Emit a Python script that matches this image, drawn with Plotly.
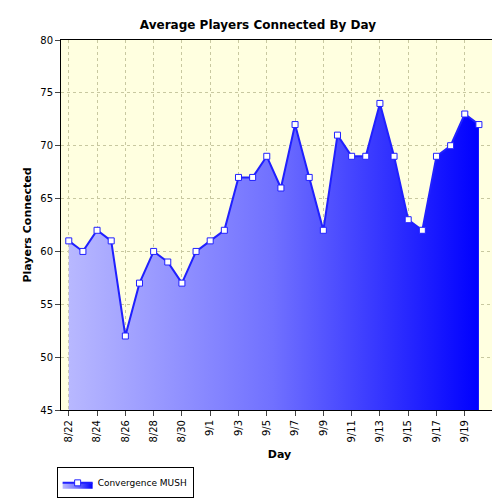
import plotly.graph_objects as go

days = ["8/22","8/23","8/24","8/25","8/26","8/27","8/28","8/29","8/30","8/31",
        "9/1","9/2","9/3","9/4","9/5","9/6","9/7","9/8","9/9","9/10",
        "9/11","9/12","9/13","9/14","9/15","9/16","9/17","9/18","9/19","9/20"]
players = [61,60,62,61,52,57,60,59,57,60,61,62,67,67,69,66,72,67,62,71,
           69,69,74,69,63,62,69,70,73,72]
xi = list(range(len(days)))

fig = go.Figure()
fig.add_trace(go.Scatter(
    x=xi, y=players, mode="lines+markers", name="Convergence MUSH",
    line=dict(color="#2020ff", width=2),
    marker=dict(symbol="square", size=6, color="white", line=dict(color="#2020ff", width=1)),
    fill="tozeroy",
    fillgradient=dict(type="horizontal", colorscale=[[0, "#b8b8ff"], [0.5, "#7070ff"], [1, "#0000ff"]]),
))
fig.update_layout(
    width=500, height=500,
    paper_bgcolor="white", plot_bgcolor="#ffffe0",
    margin=dict(l=53, r=10, t=32, b=85),
    title=dict(text="<b>Average Players Connected By Day</b>", x=0.5, y=0.975,
               font=dict(family="DejaVu Sans", size=12, color="black")),
    font=dict(family="DejaVu Sans", size=10, color="black"),
    showlegend=True,
    legend=dict(x=-0.01, y=-0.155, xanchor="left", yanchor="top", xref="paper",
                bordercolor="black", borderwidth=1, font=dict(size=9),
                itemwidth=30, tracegroupgap=0),
    xaxis=dict(range=[-0.55, 30.35], tickvals=xi[::2], ticktext=days[::2], tickangle=-90,
               showgrid=True, gridcolor="#c8c8a0", griddash="dot", automargin=False,
               showline=True, linecolor="black", mirror=True, zeroline=False, ticks="outside",
               title=dict(text="<b>Day</b>", font=dict(size=11), standoff=8)),
    yaxis=dict(range=[45, 80], dtick=5, showgrid=True, gridcolor="#c8c8a0", griddash="dot",
               showline=True, linecolor="black", mirror=True, zeroline=False, ticks="outside",
               automargin=False,
               title=dict(text="<b>Players Connected</b>", font=dict(size=11), standoff=6)),
)
fig.write_html("out.html")
